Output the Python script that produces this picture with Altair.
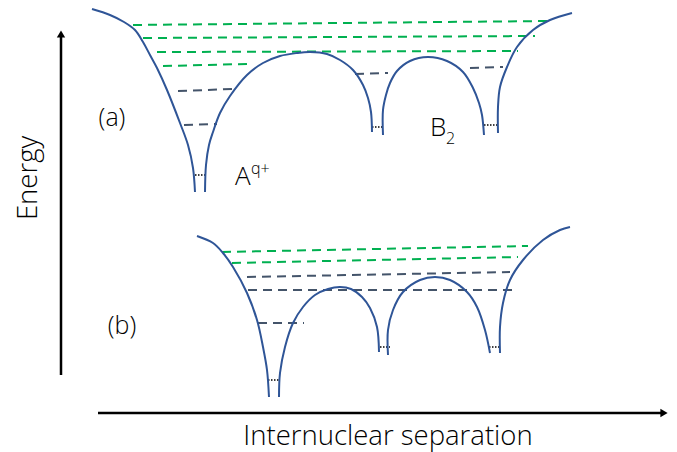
import altair as alt
import pandas as pd

W, H = 677, 452
FONT = "Open Sans"

# ---- potential curves (pixel-space schematic coordinates) ----
curve_a1 = [(92, 9), (110, 15), (124, 22), (135, 30), (143, 42), (150, 55), (157, 68),
            (167, 90), (180, 123), (188, 145), (193, 168), (195, 192)]
curve_a2 = [(205, 192), (206, 165), (209, 145), (213, 132), (220, 113), (230, 96), (247, 75),
            (263, 63), (280, 56), (297, 53), (310, 52), (327, 54), (340, 60), (353, 70),
            (363, 85), (368, 98), (371, 112), (372, 132)]
curve_a3 = [(383, 135), (383, 110), (386, 95), (390, 83), (397, 71), (410, 61), (428, 57),
            (447, 61), (463, 72), (473, 88), (479, 103), (482, 115), (484, 135)]
curve_a4 = [(498, 133), (498, 107), (500, 87), (507, 67), (517, 47), (533, 30), (550, 20), (572, 13)]

curve_b1 = [(197, 236), (213, 243), (223, 253), (233, 267), (247, 293), (257, 320),
            (263, 347), (267, 370), (269, 397)]
curve_b2 = [(279, 397), (280, 373), (285, 347), (293, 323), (303, 307), (315, 295), (328, 289),
            (340, 287), (351, 289), (362, 297), (370, 308), (377, 327), (379, 352)]
curve_b3 = [(388, 355), (388, 330), (393, 310), (403, 292), (420, 280), (435, 277), (450, 280),
            (467, 292), (477, 307), (485, 330), (490, 353)]
curve_b4 = [(500, 353), (500, 327), (503, 303), (510, 280), (523, 260), (543, 240), (560, 230), (570, 227)]

curves = {"a1": curve_a1, "a2": curve_a2, "a3": curve_a3, "a4": curve_a4,
          "b1": curve_b1, "b2": curve_b2, "b3": curve_b3, "b4": curve_b4}

# ---- level lines (x1, y1, x2, y2) ----
green_levels = [(133, 25, 547, 21), (143, 38, 535, 36), (157, 52, 518, 51), (163, 66, 247, 64),
                (222, 252, 528, 246), (232, 263, 518, 257)]
gray_levels = [(178, 91, 233, 89), (184, 125, 217, 124), (355, 74, 388, 73), (470, 68, 503, 67),
               (247, 277, 510, 272), (248, 290, 515, 290), (258, 323, 304, 323)]
dotted_levels = [(195, 175, 205, 175), (372, 127, 383, 127), (484, 125, 497, 125),
                 (268, 380, 279, 380), (380, 347, 390, 347), (489, 347, 500, 347)]

# ---- axes arrows ----
arrow_lines = [(61, 375, 61, 36), (98, 413, 662, 413)]
arrow_heads = [(61, 34, "triangle-up"), (664, 413, "triangle-right")]

# ---- labels: text, x, y, size, align, angle ----
labels_main = [("(a)", 112, 126, 25, "center", 0), ("(b)", 122, 334, 25, "center", 0),
               ("A", 235, 185, 26, "left", 0), ("B", 430, 136, 26, "left", 0),
               ("Internuclear separation", 388, 445, 27.5, "center", 0)]
labels_small = [("q+", 251, 174, 16, "left", 0), ("2", 446, 144, 16, "left", 0)]
energy_label = [("Energy", 29, 178, 27.5, "center", 270)]

xs = alt.Scale(domain=[0, W], nice=False, zero=False)
ys = alt.Scale(domain=[0, H], nice=False, zero=False, reverse=True)

rows = []
for cid, pts in curves.items():
    for i, (x, y) in enumerate(pts):
        rows.append({"curve": cid, "order": i, "x": x, "y": y})
curve_df = pd.DataFrame(rows)

curve_layer = alt.Chart(curve_df).mark_line(
    interpolate="catmull-rom", color="#2F5597", strokeWidth=2
).encode(
    x=alt.X("x:Q", scale=xs, axis=None),
    y=alt.Y("y:Q", scale=ys, axis=None),
    detail="curve:N",
    order="order:Q",
)


def seg_layer(segs, color, dash, width):
    df = pd.DataFrame(segs, columns=["x", "y", "x2", "y2"])
    return alt.Chart(df).mark_rule(color=color, strokeDash=dash, strokeWidth=width).encode(
        x=alt.X("x:Q", scale=xs, axis=None),
        y=alt.Y("y:Q", scale=ys, axis=None),
        x2="x2:Q",
        y2="y2:Q",
    )


green_layer = seg_layer(green_levels, "#00B050", [9, 6], 2)
gray_layer = seg_layer(gray_levels, "#44546A", [9, 6], 2)
dot_layer = seg_layer(dotted_levels, "#000000", [1.5, 1.5], 1.5)
axis_layer = alt.Chart(pd.DataFrame(arrow_lines, columns=["x", "y", "x2", "y2"])).mark_rule(
    color="black", strokeWidth=2.5
).encode(
    x=alt.X("x:Q", scale=xs, axis=None),
    y=alt.Y("y:Q", scale=ys, axis=None),
    x2="x2:Q",
    y2="y2:Q",
)
head_layer = alt.Chart(pd.DataFrame(arrow_heads, columns=["x", "y", "shape"])).mark_point(
    filled=True, color="black", size=70, opacity=1
).encode(
    x=alt.X("x:Q", scale=xs, axis=None),
    y=alt.Y("y:Q", scale=ys, axis=None),
    shape=alt.Shape("shape:N", scale=None, legend=None),
)


def text_layer(items, baseline="alphabetic"):
    layers = []
    for t, x, y, s, a, ang in items:
        df = pd.DataFrame([{"t": t, "x": x, "y": y}])
        kw = dict(font=FONT, fontSize=s, fontWeight=300, align=a, baseline=baseline, color="#000000")
        if ang:
            kw["angle"] = ang
        layers.append(alt.Chart(df).mark_text(**kw).encode(
            x=alt.X("x:Q", scale=xs, axis=None),
            y=alt.Y("y:Q", scale=ys, axis=None),
            text="t:N",
        ))
    return layers


texts = text_layer(labels_main) + text_layer(labels_small) + text_layer(energy_label, "middle")

chart = alt.layer(
    green_layer, gray_layer, dot_layer, curve_layer, axis_layer, head_layer, *texts
).properties(
    width=W, height=H, autosize=alt.AutoSizeParams(type="none"), padding=0,
    background="white"
).configure_view(stroke=None)

chart.save("out.html", embed_options={"renderer": "svg", "actions": False})
